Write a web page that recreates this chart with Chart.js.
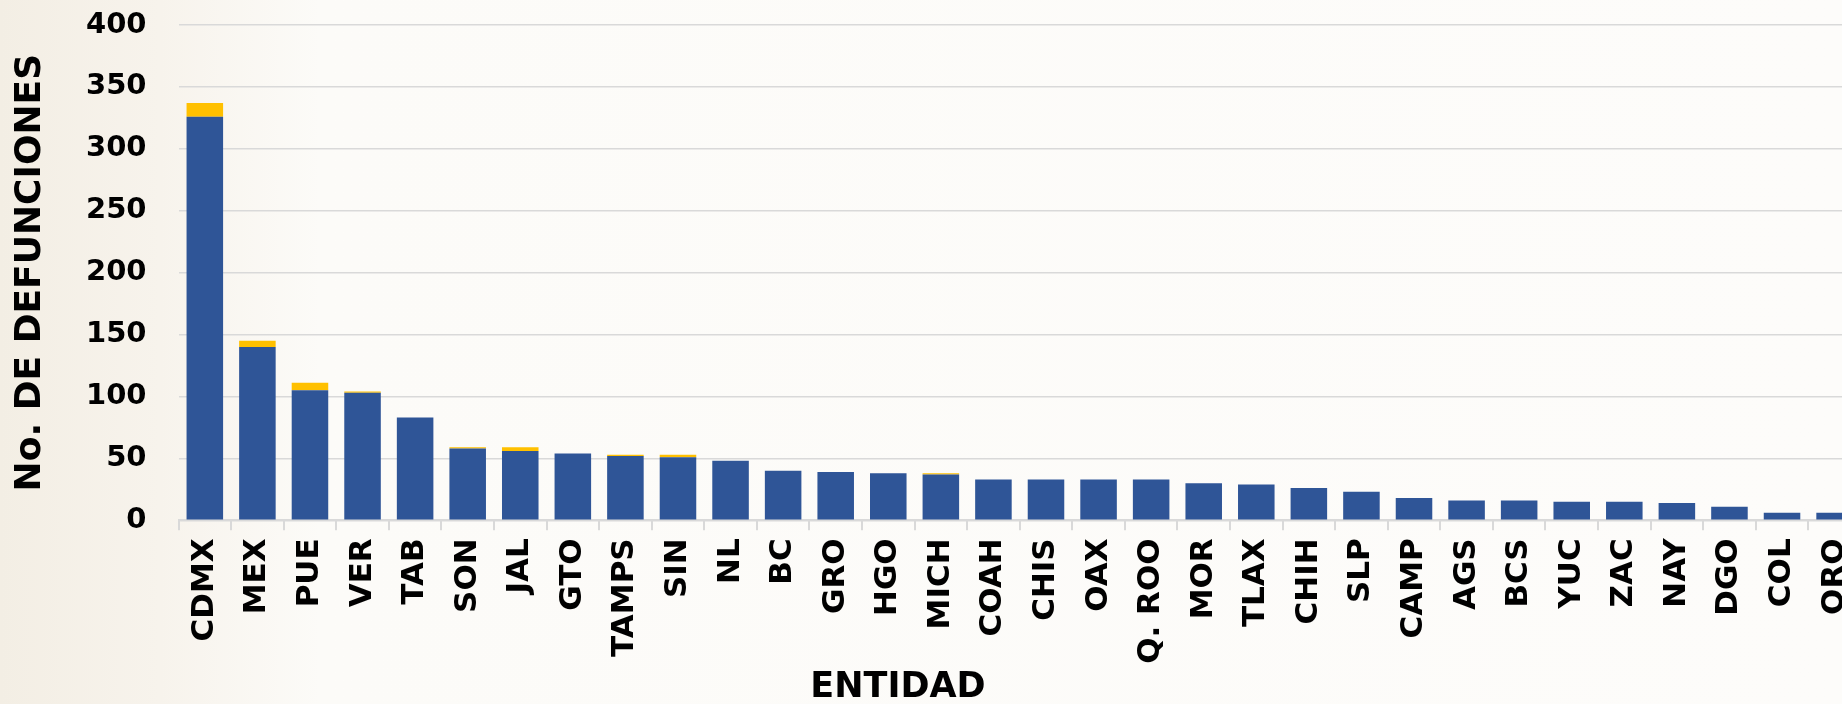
<!DOCTYPE html>
<html>
<head>
<meta charset="utf-8">
<script src="https://cdn.jsdelivr.net/npm/chart.js@4"></script>
<style>
  html, body { margin: 0; padding: 0; overflow: hidden; }
  body {
    width: 1842px; height: 704px;
    background: linear-gradient(90deg, #f3eee4 0px, #f7f3ec 160px, #fcfbf8 320px, #fdfcfa 100%);
  }
  #wrap { position: absolute; left: 0; top: 0; width: 1880px; height: 704px; }
</style>
</head>
<body>
<div id="wrap"><canvas id="grafica"></canvas></div>
<script>
// entidades y defunciones
const entidades = ['CDMX', 'MEX', 'PUE', 'VER', 'TAB', 'SON', 'JAL', 'GTO', 'TAMPS', 'SIN', 'NL', 'BC',
  'GRO', 'HGO', 'MICH', 'COAH', 'CHIS', 'OAX', 'Q. ROO', 'MOR', 'TLAX', 'CHIH', 'SLP', 'CAMP',
  'AGS', 'BCS', 'YUC', 'ZAC', 'NAY', 'DGO', 'COL', 'QRO'];
const confirmadas = [326, 140, 105, 103, 83, 58, 56, 54, 52, 51, 48, 40,
  39, 38, 37, 33, 33, 33, 33, 30, 29, 26, 23, 18,
  16, 16, 15, 15, 14, 11, 6, 6];
const sospechosas = [11, 5, 6, 1, 0, 1, 3, 0, 1, 2, 0, 0,
  0, 0, 1, 0, 0, 0, 0, 0, 0, 0, 0, 0,
  0, 0, 0, 0, 0, 0, 0, 0];
const ticksY = [0, 50, 100, 150, 200, 250, 300, 350, 400];

const fuente = 'DejaVu Sans';
const gris = '#d9d9d9';

const ctx = document.getElementById('grafica').getContext('2d');
const grafica = new Chart(ctx, {
  type: 'bar',
  data: {
    labels: entidades,
    datasets: [{
      label: 'Confirmadas',
      data: confirmadas,
      backgroundColor: '#2f5597',
      categoryPercentage: 1,
      barPercentage: 0.695
    }, {
      label: 'Sospechosas',
      data: sospechosas,
      backgroundColor: '#ffc000',
      categoryPercentage: 1,
      barPercentage: 0.695
    }]
  },
  options: {
    responsive: true,
    maintainAspectRatio: false,
    animation: false,
    // padding izquierdo negativo para correr el titulo de abajo hacia la izquierda
    layout: { padding: { left: -71, right: 13, top: 25, bottom: 0 } },
    plugins: {
      legend: { display: false },
      tooltip: { enabled: false },
      title: {
        display: true,
        position: 'bottom',
        text: 'ENTIDAD',
        color: '#000',
        font: { family: fuente, size: 35, weight: 'bold', lineHeight: 0.92 },
        padding: { top: 0, bottom: 0 }
      }
    },
    scales: {
      x: {
        stacked: true,
        grid: {
          offset: true,
          drawOnChartArea: false,
          drawTicks: true,
          tickLength: 10,
          color: gris,
          lineWidth: 2
        },
        border: { display: true, color: gris, width: 2 },
        ticks: {
          color: '#000',
          minRotation: 90,
          maxRotation: 90,
          autoSkip: false,
          padding: 8,
          font: { family: fuente, size: 31, weight: 'bold' }
        }
      },
      y: {
        stacked: true,
        min: 0,
        max: 400,
        afterBuildTicks: (scale) => { scale.ticks = ticksY.map(v => ({ value: v })); },
        // el padding de las etiquetas no debe empujar el area hacia abajo
        afterFit: (scale) => { scale.paddingTop = 0; scale.paddingBottom = 0; },
        grid: { color: gris, lineWidth: 1.5, drawTicks: false },
        border: { display: false },
        ticks: {
          color: '#000',
          padding: 32,
          font: { family: fuente, size: 29, weight: 'bold' }
        },
        title: {
          display: true,
          text: 'No. DE DEFUNCIONES',
          color: '#000',
          font: { family: fuente, size: 36, weight: 'bold', lineHeight: 1 },
          padding: { top: 84, bottom: 5 }
        }
      }
    }
  }
});
</script>
</body>
</html>
